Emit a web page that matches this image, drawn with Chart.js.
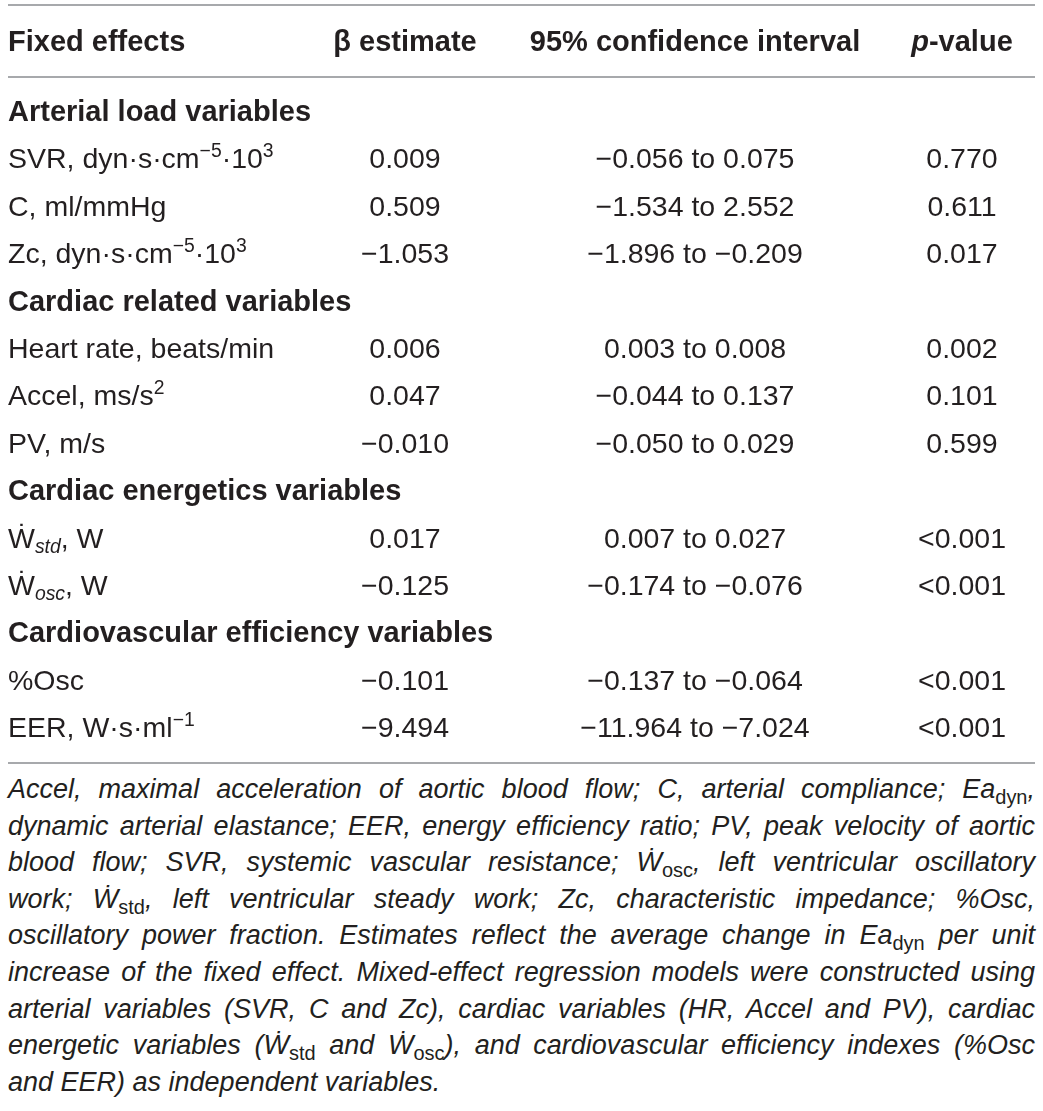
<!DOCTYPE html>
<html>
<head>
<meta charset="utf-8">
<script src="https://cdn.jsdelivr.net/npm/chart.js@4.4.1/dist/chart.umd.min.js"></script>
<style>
body { margin: 0; background: #fff; }
#wrap { position: relative; width: 1043px; height: 770px; }
#note {
  position: absolute; left: 8px; top: 771px; width: 1027px;
  font-family: "Liberation Sans", Arial, sans-serif; font-style: italic;
  font-size: 27px; line-height: 36.6px; color: #231f20;
}
#note div { text-align: justify; text-align-last: justify; white-space: nowrap; }
#note div.last { text-align-last: left; }
#note sub { font-style: normal; font-size: 0.74em; vertical-align: -0.28em; line-height: 0; }
</style>
</head>
<body>
<div id="wrap"><canvas id="tbl"></canvas></div>
<div id="note">
  <div>Accel, maximal acceleration of aortic blood flow; C, arterial compliance; Ea<sub>dyn</sub>,</div>
  <div>dynamic arterial elastance; EER, energy efficiency ratio; PV, peak velocity of aortic</div>
  <div>blood flow; SVR, systemic vascular resistance; Ẇ<sub>osc</sub>, left ventricular oscillatory</div>
  <div>work; Ẇ<sub>std</sub>, left ventricular steady work; Zc, characteristic impedance; %Osc,</div>
  <div>oscillatory power fraction. Estimates reflect the average change in Ea<sub>dyn</sub> per unit</div>
  <div>increase of the fixed effect. Mixed-effect regression models were constructed using</div>
  <div>arterial variables (SVR, C and Zc), cardiac variables (HR, Accel and PV), cardiac</div>
  <div>energetic variables (Ẇ<sub>std</sub> and Ẇ<sub>osc</sub>), and cardiovascular efficiency indexes (%Osc</div>
  <div class="last">and EER) as independent variables.</div>
</div>
<script>
// table content
const headers = ['Fixed effects', 'β estimate', '95% confidence interval', '*p*-value'];
const groups = ['Arterial load variables', 'Cardiac related variables',
                'Cardiac energetics variables', 'Cardiovascular efficiency variables'];
const effects = ['SVR, dyn·s·cm^{−5}·10^{3}', 'C, ml/mmHg', 'Zc, dyn·s·cm^{−5}·10^{3}',
                 'Heart rate, beats/min', 'Accel, ms/s^{2}', 'PV, m/s',
                 'Ẇ_{std}, W', 'Ẇ_{osc}, W', '%Osc', 'EER, W·s·ml^{−1}'];
const effectGroup = [0, 0, 0, 1, 1, 1, 2, 2, 3, 3];
const betas  = [0.009, 0.509, -1.053, 0.006, 0.047, -0.010, 0.017, -0.125, -0.101, -9.494];
const ciLow  = [-0.056, -1.534, -1.896, 0.003, -0.044, -0.050, 0.007, -0.174, -0.137, -11.964];
const ciHigh = [0.075, 2.552, -0.209, 0.008, 0.137, 0.029, 0.027, -0.076, -0.064, -7.024];
const pValues = ['0.770', '0.611', '0.017', '0.002', '0.101', '0.599',
                 '<0.001', '<0.001', '<0.001', '<0.001'];

// layout
const colX = [8, 405, 695, 962];
const ROW_H = 47.4, FIRST = 121, CANVAS_H = 770;
const HEADER_ROW = -1.48;
const FONT = '"Liberation Sans", Arial, "DejaVu Sans", sans-serif';
const INK = '#231f20';

let rowOfGroup = [], rowOfEffect = [];
let r = 0;
groups.forEach((g, gi) => {
  rowOfGroup.push(r++);
  effectGroup.forEach((eg, ei) => { if (eg === gi) rowOfEffect[ei] = r++; });
});
const rules = [-2.45, -0.93, (r - 1) + 0.54];

function fmt(v) {
  return (v < 0 ? '\u2212' : '') + Math.abs(v).toFixed(3);
}

function parseRich(str) {
  let segs = [], buf = '', i = 0;
  const push = (t, kind) => { if (t) segs.push({ t: t, kind: kind }); };
  while (i < str.length) {
    const c = str[i];
    if ((c === '^' || c === '_') && str[i + 1] === '{') {
      push(buf, 'n'); buf = '';
      const end = str.indexOf('}', i);
      push(str.slice(i + 2, end), c === '^' ? 'sup' : 'sub');
      i = end + 1; continue;
    }
    if (c === '*') {
      push(buf, 'n'); buf = '';
      const end = str.indexOf('*', i + 1);
      push(str.slice(i + 1, end), 'it');
      i = end + 1; continue;
    }
    buf += c; i++;
  }
  push(buf, 'n');
  return segs;
}

function drawRich(ctx, str, x, y, align, bold) {
  const size = bold ? 29 : 28.5;
  const w = bold ? 'bold ' : '';
  const segs = parseRich(str).map(s => {
    let font, dy = 0;
    if (s.kind === 'sup') { font = w + (size * 0.68) + 'px ' + FONT; dy = -size * 0.4; }
    else if (s.kind === 'sub') { font = 'italic ' + w + (size * 0.68) + 'px ' + FONT; dy = size * 0.18; }
    else if (s.kind === 'it') { font = 'italic ' + w + size + 'px ' + FONT; }
    else { font = w + size + 'px ' + FONT; }
    ctx.font = font;
    return { t: s.t, font: font, dy: dy, w: ctx.measureText(s.t).width };
  });
  const total = segs.reduce((a, s) => a + s.w, 0);
  let cx = align === 'center' ? x - total / 2 : x;
  segs.forEach(s => {
    ctx.font = s.font;
    ctx.fillText(s.t, cx, y + s.dy);
    cx += s.w;
  });
}

const tablePlugin = {
  id: 'tableText',
  afterDatasetsDraw(chart) {
    const ctx = chart.ctx;
    const xs = chart.scales.x, ys = chart.scales.y;
    ctx.save();
    ctx.strokeStyle = '#a7a9ac';
    ctx.lineWidth = 2;
    rules.forEach(v => {
      const py = Math.round(ys.getPixelForValue(v));
      ctx.beginPath();
      ctx.moveTo(xs.getPixelForValue(8), py);
      ctx.lineTo(xs.getPixelForValue(1035), py);
      ctx.stroke();
    });
    ctx.fillStyle = INK;
    ctx.textBaseline = 'alphabetic';
    chart.data.datasets.forEach((ds, di) => {
      const meta = chart.getDatasetMeta(di);
      meta.data.forEach((pt, j) => {
        const d = ds.data[j];
        drawRich(ctx, d.text, pt.x, pt.y, d.x === colX[0] ? 'left' : 'center', ds.bold);
      });
    });
    ctx.restore();
  }
};

const cell = (col, row, text) => ({ x: colX[col], y: row, text: text });

new Chart(document.getElementById('tbl'), {
  type: 'scatter',
  data: {
    datasets: [
      { label: 'header', bold: true, data: headers.map((h, c) => cell(c, HEADER_ROW, h)) },
      { label: 'groups', bold: true, data: groups.map((g, gi) => cell(0, rowOfGroup[gi], g)) },
      { label: 'effects', data: effects.map((e, i) => cell(0, rowOfEffect[i], e)) },
      { label: 'beta', data: betas.map((b, i) => cell(1, rowOfEffect[i], fmt(b))) },
      { label: 'ci', data: ciLow.map((lo, i) => cell(2, rowOfEffect[i], fmt(lo) + ' to ' + fmt(ciHigh[i]))) },
      { label: 'p', data: pValues.map((p, i) => cell(3, rowOfEffect[i], p)) }
    ]
  },
  options: {
    responsive: true,
    maintainAspectRatio: false,
    animation: false,
    layout: { padding: 0 },
    elements: { point: { radius: 0, hoverRadius: 0 } },
    plugins: { legend: { display: false }, tooltip: { enabled: false } },
    scales: {
      x: { type: 'linear', min: 0, max: 1043, display: false },
      y: { type: 'linear', reverse: true, display: false,
           min: -FIRST / ROW_H, max: (CANVAS_H - FIRST) / ROW_H }
    }
  },
  plugins: [tablePlugin]
});
</script>
</body>
</html>
